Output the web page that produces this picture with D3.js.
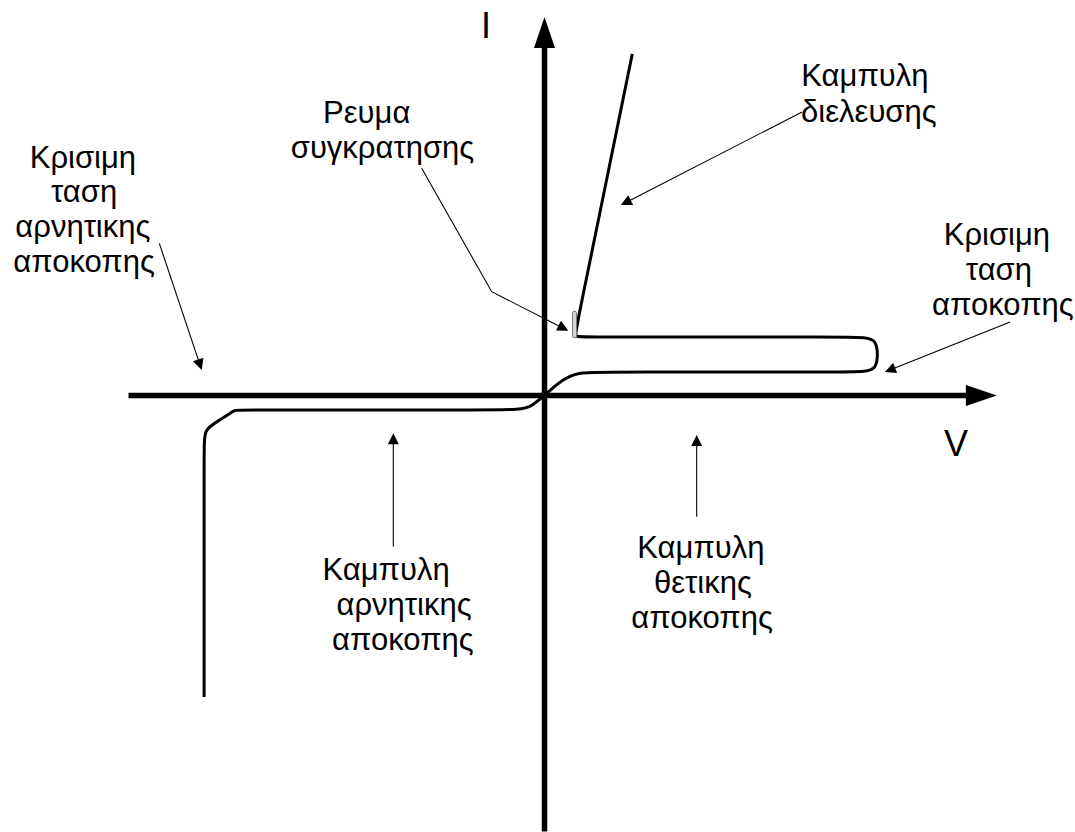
<!DOCTYPE html>
<html>
<head>
<meta charset="utf-8">
<script src="https://cdn.jsdelivr.net/npm/d3@7"></script>
<style>
  body { margin: 0; background: #fff; }
  text { font-family: "Liberation Sans", Arial, sans-serif; font-size: 31px; fill: #000; }
  text.axis-name { font-size: 36px; }
</style>
</head>
<body>
<div id="chart"></div>
<script>
// Thyristor I-V characteristic, units: V and I in arbitrary diagram units

// axis extents (V, I)
const vAxisExtent = [-104, 113.1];
const iAxisExtent = [-109, 94.6];

// control points of the characteristic curve (V, I), drawn as a basis spline
const curveV = [-85.1, -85.1, -85.1, -81.8, -78.2, -77.4, -76.4, -7.9, -3.6, 3.9, 8.4, 16.4, 78.9, 83.4, 83.4, 78.9, 9.6, 7.5, 7.9, 21.95];
const curveI = [-75.4, -12.6, -8.6, -6.5, -4.2, -3.6, -3.6, -3.6, -3.6, 3.9, 5.9, 5.9, 5.9, 5.9, 14.6, 14.6, 14.6, 14.6, 16.6, 85.4];

// holding current marker (V range, I range)
const holdV = [7.0, 8.0];
const holdI = [14.4, 21.1];

// annotation arrows: polyline points (V, I), last point is the tip
const pointers = [
  [[64.4, 70.9], [19.1, 47.6]],
  [[-30.7, 56.8], [-13.2, 25.95], [5.95, 16.2]],
  [[-96.3, 38.05], [-85.7, 6.4]],
  [[116.4, 18.4], [85.1, 5.9]],
  [[-37.8, -37.8], [-37.8, -9.45]],
  [[38.05, -30.3], [38.05, -9.9]]
];

// text lines: [text, V, I] (centre of line, baseline)
const labelLines = [
  ["Καμπυλη", 80.1, 77.4],
  ["διελευσης", 81.1, 68.5],
  ["Ρευμα", -44.45, 68.1],
  ["συγκρατησης", -40.5, 59.4],
  ["Κρισιμη", -115.4, 56.95],
  ["ταση", -115.1, 48.4],
  ["αρνητικης", -115.4, 39.6],
  ["αποκοπης", -115.1, 30.9],
  ["Κρισιμη", 113.1, 37.6],
  ["ταση", 113.6, 28.9],
  ["αποκοπης", 114.6, 20.1],
  ["Καμπυλη", -39.6, -46],
  ["αρνητικης", -35.1, -54.9],
  ["αποκοπης", -35.4, -63.6],
  ["Καμπυλη", 39.1, -40.6],
  ["θετικης", 39.6, -49.4],
  ["αποκοπης", 39.4, -58.1]
];

const axisNames = [["I", -14.6, 89.4], ["V", 102.9, -15.1]];

const width = 1075, height = 832;

const svg = d3.select("#chart")
  .append("svg")
  .attr("width", width)
  .attr("height", height);

const x = d3.scaleLinear().domain([-104, 113]).range([128.5, 996.5]);
const y = d3.scaleLinear().domain([-109, 95]).range([831.5, 15.5]);

// line ending at the base of a triangular head, head filled
function arrow(g, pts, headLen, halfW, strokeW) {
  const px = pts.map(p => [x(p[0]), y(p[1])]);
  const tip = px[px.length - 1];
  const prev = px[px.length - 2];
  const dx = tip[0] - prev[0], dy = tip[1] - prev[1];
  const len = Math.hypot(dx, dy);
  const ux = dx / len, uy = dy / len;
  const base = [tip[0] - ux * headLen, tip[1] - uy * headLen];
  const shaft = px.slice(0, -1).concat([[base[0] + ux, base[1] + uy]]);

  g.append("path")
    .attr("d", d3.line()(shaft))
    .attr("fill", "none")
    .attr("stroke", "#000")
    .attr("stroke-width", strokeW);

  g.append("path")
    .attr("d", d3.line()([
      tip,
      [base[0] - uy * halfW, base[1] + ux * halfW],
      [base[0] + uy * halfW, base[1] - ux * halfW]
    ]) + "Z")
    .attr("fill", "#000");
}

// axes
const axes = svg.append("g");
arrow(axes, [[vAxisExtent[0], 0], [vAxisExtent[1], 0]], 31, 10.5, 5.5);
arrow(axes, [[0, iAxisExtent[0]], [0, iAxisExtent[1]]], 31, 10.5, 5.5);

// characteristic curve
const curvePts = curveV.map((v, i) => [v, curveI[i]]);
svg.append("path")
  .datum(curvePts)
  .attr("fill", "none")
  .attr("stroke", "#000")
  .attr("stroke-width", 3)
  .attr("stroke-linejoin", "round")
  .attr("d", d3.line()
    .x(d => x(d[0]))
    .y(d => y(d[1]))
    .curve(d3.curveBasis));

// holding current marker
svg.append("rect")
  .attr("x", x(holdV[0]))
  .attr("y", y(holdI[1]))
  .attr("width", x(holdV[1]) - x(holdV[0]))
  .attr("height", y(holdI[0]) - y(holdI[1]))
  .attr("rx", 2)
  .attr("fill", "#d4d4d4")
  .attr("stroke", "#777")
  .attr("stroke-width", 1);

// annotation pointers
const notes = svg.append("g");
pointers.forEach(p => arrow(notes, p, 11, 5.5, 1.1));

// labels
svg.append("g")
  .selectAll("text")
  .data(labelLines)
  .join("text")
  .attr("x", d => x(d[1]))
  .attr("y", d => y(d[2]))
  .attr("text-anchor", "middle")
  .text(d => d[0]);

svg.append("g")
  .selectAll("text")
  .data(axisNames)
  .join("text")
  .attr("class", "axis-name")
  .attr("x", d => x(d[1]))
  .attr("y", d => y(d[2]))
  .attr("text-anchor", "middle")
  .text(d => d[0]);
</script>
</body>
</html>
